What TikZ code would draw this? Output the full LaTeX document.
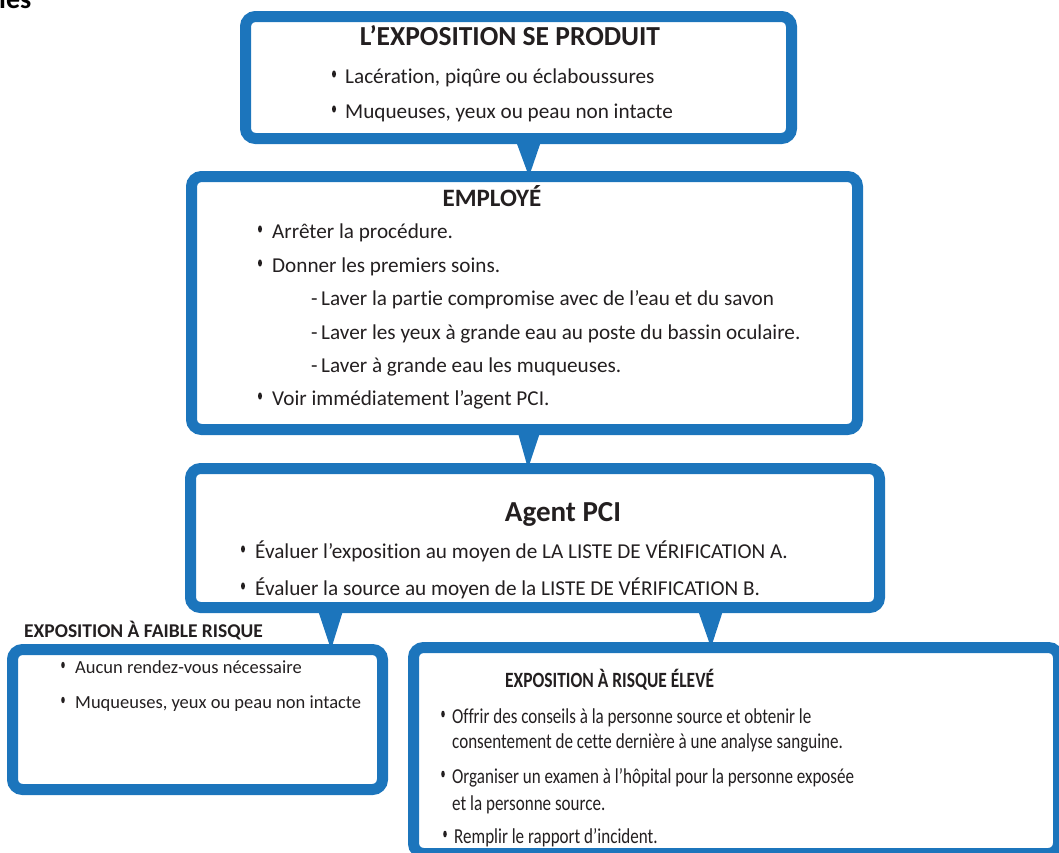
\documentclass[tikz,border=0pt]{standalone}
\usepackage{fontspec}
\setmainfont{Carlito}[Ligatures=NoCommon]
\newfontfamily\condfont{Carlito}[FakeStretch=0.8,Ligatures=NoCommon]
\usetikzlibrary{calc}
\definecolor{boxblue}{RGB}{28,117,188}
\definecolor{textcol}{RGB}{35,31,32}
\newcommand\bline[5][11]{%
  \node[txt] (#2) at (#3,#4) {#5};
  \fill[textcol] ([xshift=-#1pt,yshift=9pt]#2.base west) ellipse (2pt and 3.6pt);}
\begin{document}
\begin{tikzpicture}[x=1pt,y=-1pt,
  box/.style={draw=boxblue, line width=11pt, rounded corners=10pt, outer sep=0pt, inner sep=0pt, rectangle},
  tri/.style={fill=boxblue},
  txt/.style={anchor=base west, inner sep=0pt, text=textcol, font=\fontsize{21.2}{25}\selectfont},
  small/.style={txt, font=\fontsize{18.5}{22}\selectfont},
  cond/.style={txt, font=\condfont\fontsize{21.3}{25}\selectfont},
  ttl/.style={anchor=base, inner sep=0pt, text=textcol},
  dot/.style={fill=textcol}]
\useasboundingbox (0,0) rectangle (1059,852);
% partial heading at the top left
\node[anchor=base west, inner sep=0pt, text=black, font=\fontsize{28}{30}\selectfont\bfseries] (head) at (-1,8) {ies};
% boxes
\node[box, minimum width=546pt, minimum height=122pt] (b1) at (518.5,77.5) {};
\node[box, minimum width=666pt, minimum height=253pt] (b2) at (524.5,303) {};
\node[box, minimum width=689pt, minimum height=139pt] (b3) at (535,538) {};
\node[box, minimum width=370pt, minimum height=140pt] (b4) at (197.5,719.5) {};
\node[box, minimum width=645pt, minimum height=206pt] (b5) at (736,750.5) {};
% pointers
\fill[tri] (515,0 |- b1.south) -- (542,0 |- b1.south) -- (529,0 |- b2.north) -- cycle;
\fill[tri] (517,0 |- b2.south) -- (541,0 |- b2.south) -- (528,0 |- b3.north) -- cycle;
\fill[tri] (317,0 |- b3.south) -- (344,0 |- b3.south) -- (331,0 |- b4.north) -- cycle;
\fill[tri] (697,0 |- b3.south) -- (724,0 |- b3.south) -- (711,0 |- b5.north) -- cycle;
% box 1
\node[ttl, font=\fontsize{27.5}{30}\selectfont\bfseries] (t1) at (510,45) {L’EXPOSITION SE PRODUIT};
\bline{l11}{345}{83}{Lacération, piqûre ou éclaboussures}
\bline{l12}{345}{118}{Muqueuses, yeux ou peau non intacte}
% box 2
\node[ttl, font=\fontsize{25}{28}\selectfont\bfseries] (t2) at (492,206) {EMPLOYÉ};
\bline[12]{l21}{272}{238}{Arrêter la procédure.}
\bline[12]{l22}{272}{272}{Donner les premiers soins.}
\node[txt] (l23) at (311,305) {\makebox[10pt][l]{-}Laver la partie compromise avec de l’eau et du savon};
\node[txt] (l24) at (311,339) {\makebox[10pt][l]{-}Laver les yeux à grande eau au poste du bassin oculaire.};
\node[txt] (l25) at (311,372) {\makebox[10pt][l]{-}Laver à grande eau les muqueuses.};
\bline[12]{l26}{272}{405}{Voir immédiatement l’agent PCI.}
% box 3
\node[ttl, font=\fontsize{29}{32}\selectfont\bfseries] (t3) at (563,521) {Agent PCI};
\bline[12]{l31}{255}{558}{Évaluer l’exposition au moyen de LA LISTE DE VÉRIFICATION A.}
\bline[12]{l32}{255}{595}{Évaluer la source au moyen de la LISTE DE VÉRIFICATION B.}
% box 4
\node[anchor=base west, inner sep=0pt, text=textcol, font=\fontsize{19.5}{22}\selectfont\bfseries] (t4) at (24,637) {EXPOSITION À FAIBLE RISQUE};
\node[small] (l41) at (75,673) {Aucun rendez-vous nécessaire};
\fill[dot] ([xshift=-12pt,yshift=8pt]l41.base west) ellipse (1.8pt and 3.2pt);
\node[small] (l42) at (75,708) {Muqueuses, yeux ou peau non intacte};
\fill[dot] ([xshift=-12pt,yshift=8pt]l42.base west) ellipse (1.8pt and 3.2pt);
% box 5
\node[anchor=base west, inner sep=0pt, text=textcol, font=\condfont\fontsize{21.8}{24}\selectfont\bfseries] (t5) at (505,687) {EXPOSITION À RISQUE ÉLEVÉ};
\node[cond] (l51) at (452,723) {Offrir des conseils à la personne source et obtenir le};
\fill[dot] ([xshift=-9pt,yshift=9pt]l51.base west) ellipse (1.8pt and 3.4pt);
\node[cond] (l52) at (452,748) {consentement de cette dernière à une analyse sanguine.};
\node[cond] (l53) at (452,783) {Organiser un examen à l’hôpital pour la personne exposée};
\fill[dot] ([xshift=-9pt,yshift=9pt]l53.base west) ellipse (1.8pt and 3.4pt);
\node[cond] (l54) at (452,810) {et la personne source.};
\node[cond] (l55) at (454,843) {Remplir le rapport d’incident.};
\fill[dot] ([xshift=-9pt,yshift=9pt]l55.base west) ellipse (1.8pt and 3.4pt);
\end{tikzpicture}
\end{document}
